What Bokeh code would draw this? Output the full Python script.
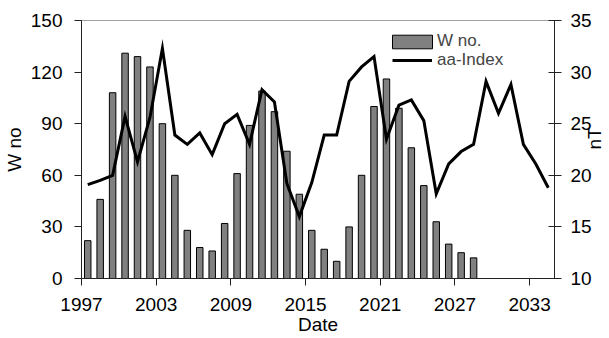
import math

from bokeh.embed import file_html
from bokeh.models import (ColumnDataSource, FixedTicker, Legend, LegendItem,
                          LinearAxis, Range1d)
from bokeh.plotting import figure
from bokeh.resources import INLINE

# Yearly sunspot number (W no.) and geomagnetic aa-index (nT)
w_years = list(range(1997, 2029))
w_no = [22, 46, 108, 131, 129, 123, 90, 60, 28, 18,
        16, 32, 61, 89, 109, 97, 74, 49, 28, 17,
        10, 30, 60, 100, 116, 99, 76, 54, 33, 20,
        15, 12]

aa_years = list(range(1997, 2035))
aa_index = [19.1, 19.5, 20.0, 25.7, 21.3, 25.6, 32.3, 23.9, 23.0, 24.1,
            22.0, 25.0, 25.9, 23.0, 28.3, 27.1, 19.2, 16.0, 19.3, 23.9,
            23.9, 29.1, 30.5, 31.5, 23.5, 26.8, 27.3, 25.3, 18.2, 21.1,
            22.3, 23.0, 29.1, 26.0, 28.8, 23.0, 21.1, 18.8]

x_ticks = [1997, 2003, 2009, 2015, 2021, 2027, 2033]
w_ticks = [0, 30, 60, 90, 120, 150]
nt_ticks = [10, 15, 20, 25, 30, 35]

FONT = "Liberation Sans"
FS = "19px"
LEGEND_FS = "17px"

# each value sits in the middle of its year
w_src = ColumnDataSource(dict(x=[y + 0.5 for y in w_years], top=w_no))
aa_src = ColumnDataSource(dict(x=[y + 0.5 for y in aa_years], y=aa_index))

p = figure(frame_width=473, frame_height=258,
           x_range=Range1d(1997, 2035), y_range=Range1d(0, 150),
           output_backend="svg", toolbar_location=None,
           min_border_left=81, min_border_top=20,
           min_border_right=0, min_border_bottom=0,
           background_fill_color="white", border_fill_color="white")
p.extra_y_ranges = {"nt": Range1d(10, 35)}

p.xgrid.visible = False
p.ygrid.visible = False
p.outline_line_color = "#a0a0a0"
p.outline_line_width = 1

bars = p.vbar(x="x", top="top", bottom=0, width=0.52, source=w_src,
              fill_color="#808080", line_color="black", line_width=1)
line = p.line(x="x", y="y", source=aa_src, y_range_name="nt",
              line_color="black", line_width=3, line_join="miter")

right = LinearAxis(y_range_name="nt", axis_label="nT")
p.add_layout(right, "right")

p.xaxis.axis_label = "Date"
p.yaxis[0].axis_label = "W no"

p.xaxis.ticker = FixedTicker(ticks=x_ticks)
p.yaxis[0].ticker = FixedTicker(ticks=w_ticks)
right.ticker = FixedTicker(ticks=nt_ticks)

for ax in [p.xaxis[0], p.yaxis[0], right]:
    ax.axis_line_color = "#222222"
    ax.axis_line_width = 1
    ax.major_tick_line_color = "#222222"
    ax.major_tick_out = 7
    ax.major_tick_in = 0
    ax.minor_tick_line_color = None
    ax.major_label_text_font = FONT
    ax.major_label_text_font_size = FS
    ax.major_label_text_color = "black"
    ax.axis_label_text_font = FONT
    ax.axis_label_text_font_size = FS
    ax.axis_label_text_font_style = "normal"
    ax.axis_label_text_color = "black"

right.major_tick_in = 6
p.xaxis.major_label_standoff = 12
p.yaxis[0].major_label_standoff = 12
right.major_label_standoff = 9
p.xaxis.axis_label_standoff = 0
p.yaxis[0].axis_label_standoff = 3
right.axis_label_standoff = 0
if hasattr(right, "axis_label_orientation"):
    right.axis_label_orientation = math.pi / 2

# one legend entry per row so each can be placed on its own
legend_style = dict(orientation="vertical", padding=0, margin=0,
                    label_text_font=FONT, label_text_font_size=LEGEND_FS,
                    border_line_color=None, background_fill_alpha=0)
legend_w = Legend(items=[LegendItem(label="W no.", renderers=[bars])],
                  location=(306, 227), glyph_width=50, glyph_height=17,
                  label_standoff=0, **legend_style)
legend_aa = Legend(items=[LegendItem(label="aa-Index", renderers=[line])],
                   location=(311, 208), glyph_width=40, glyph_height=14,
                   label_standoff=5, **legend_style)
p.add_layout(legend_w, "center")
p.add_layout(legend_aa, "center")

open("out.html", "w").write(file_html(p, INLINE))
